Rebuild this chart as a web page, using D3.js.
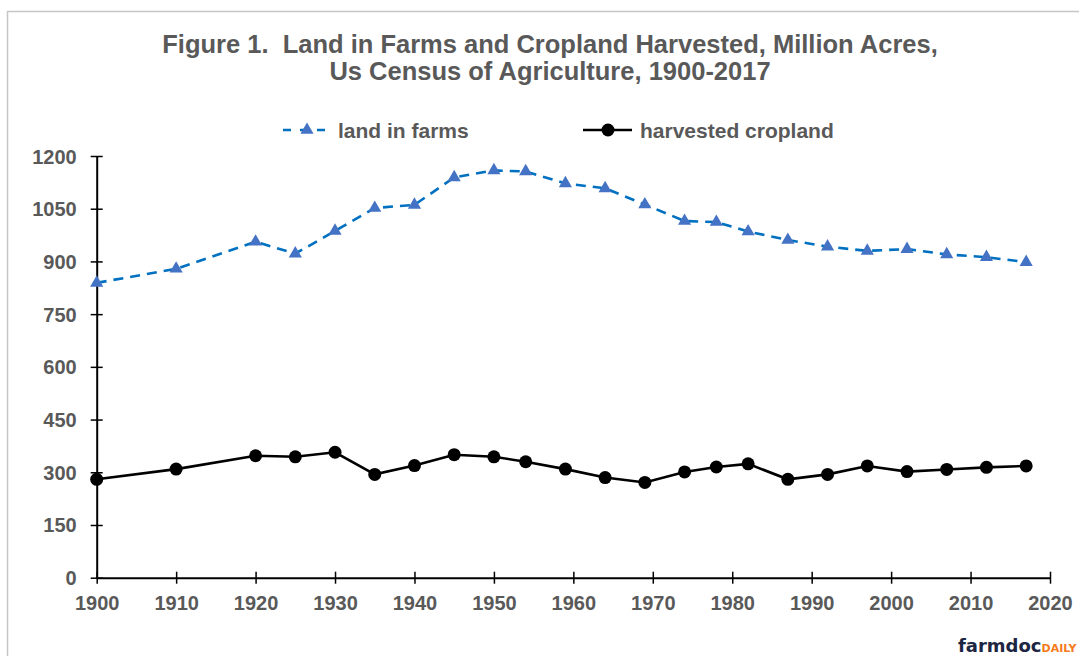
<!DOCTYPE html>
<html><head><meta charset="utf-8">
<script src="https://cdn.jsdelivr.net/npm/d3@7"></script>
<style>html,body{margin:0;padding:0;background:#fff;}svg{display:block;}</style>
</head><body>
<script>
const years = [1900,1910,1920,1925,1930,1935,1940,1945,1950,1954,1959,1964,1969,1974,1978,1982,1987,1992,1997,2002,2007,2012,2017];
const landInFarms = [839,879,956,922,987,1052,1061,1139,1159,1156,1122,1108,1062,1015,1012,985,961,942,930,935,920,912,898];
const harvestedCropland = [280,309,347,344,357,294,319,350,344,330,309,285,271,301,315,324,280,294,318,302,308,314,318];
const yTicks = [0,150,300,450,600,750,900,1050,1200];
const xTicks = [1900,1910,1920,1930,1940,1950,1960,1970,1980,1990,2000,2010,2020];
const titleLines = ["Figure 1.  Land in Farms and Cropland Harvested, Million Acres,","Us Census of Agriculture, 1900-2017"];
const seriesNames = ["land in farms","harvested cropland"];

const W=1079,H=656;
const svg=d3.select("body").append("svg").attr("width",W).attr("height",H);
svg.append("rect").attr("x",7.5).attr("y",11.5).attr("width",W).attr("height",H).attr("fill","#fff").attr("stroke","#c6c6c6").attr("stroke-width",1.5);

const x=d3.scaleLinear().domain([1900,2020]).range([96.7,1050]);
const y=d3.scaleLinear().domain([0,1200]).range([577.7,156]);
const grey="#595959";
const font="'Liberation Sans', Arial, sans-serif";

// title
svg.selectAll("text.title").data(titleLines).join("text").attr("class","title")
  .attr("x",550).attr("y",(d,i)=>53+i*27).attr("text-anchor","middle").style("white-space","pre")
  .attr("font-family",font).attr("font-weight","bold").attr("font-size",25.5).attr("fill",grey).text(d=>d);

// axes
const yAxis=d3.axisLeft(y).tickValues(yTicks).tickFormat(d3.format("d")).tickSizeInner(6).tickSizeOuter(0);
const gy=svg.append("g").attr("transform",`translate(${x(1900)},0)`).call(yAxis);
gy.selectAll(".tick line").attr("x1",-6).attr("x2",6);
const xAxis=d3.axisBottom(x).tickValues(xTicks).tickFormat(d3.format("d")).tickSizeInner(6).tickSizeOuter(0);
const gx=svg.append("g").attr("transform",`translate(0,${y(0)})`).call(xAxis);
gx.selectAll(".tick line").attr("y1",-6).attr("y2",6);
[gx,gy].forEach(g=>{
  g.select(".domain").attr("stroke","#000").attr("stroke-width",2);
  g.selectAll(".tick line").attr("stroke","#000").attr("stroke-width",1.5);
  g.selectAll("text").attr("font-family",font).attr("font-weight","bold").attr("font-size",20).attr("fill",grey);
});
gy.selectAll("text").attr("x",-20).attr("dy","0.35em");
gx.selectAll("text").attr("y",32).attr("dy",0);

const dataA=years.map((yr,i)=>({x:yr,y:landInFarms[i]}));
const dataB=years.map((yr,i)=>({x:yr,y:harvestedCropland[i]}));
const line=d3.line().x(d=>x(d.x)).y(d=>y(d.y));

svg.append("path").datum(dataA).attr("d",line).attr("fill","none").attr("stroke","#0070C0").attr("stroke-width",2.6).attr("stroke-dasharray","10,7");
const tri=d3.symbol().type(d3.symbolTriangle).size(75);
svg.selectAll("path.tri").data(dataA).join("path").attr("class","tri").attr("d",tri)
  .attr("transform",d=>`translate(${x(d.x)},${y(d.y)})`).attr("fill","#4472C4");

svg.append("path").datum(dataB).attr("d",line).attr("fill","none").attr("stroke","#000").attr("stroke-width",2.6);
svg.selectAll("circle.pt").data(dataB).join("circle").attr("class","pt")
  .attr("cx",d=>x(d.x)).attr("cy",d=>y(d.y)).attr("r",6.5).attr("fill","#000");

// legend
const ly=130;
const lg=svg.append("g");
lg.append("line").attr("x1",283).attr("x2",332).attr("y1",ly).attr("y2",ly).attr("stroke","#0070C0").attr("stroke-width",2.6).attr("stroke-dasharray","8,9");
lg.append("path").attr("d",tri).attr("transform",`translate(307,${ly})`).attr("fill","#4472C4");
lg.append("text").attr("x",338).attr("y",ly+7.5).attr("font-family",font).attr("font-weight","bold").attr("font-size",21).attr("fill",grey).text(seriesNames[0]);
lg.append("line").attr("x1",583).attr("x2",632).attr("y1",ly).attr("y2",ly).attr("stroke","#000").attr("stroke-width",2.6);
lg.append("circle").attr("cx",608).attr("cy",ly).attr("r",6.5).attr("fill","#000");
lg.append("text").attr("x",640).attr("y",ly+7.5).attr("font-family",font).attr("font-weight","bold").attr("font-size",21).attr("fill",grey).text(seriesNames[1]);

// logo
const logo=svg.append("text").attr("x",958).attr("y",652).attr("font-family","'DejaVu Sans', sans-serif").attr("font-weight","bold");
logo.append("tspan").attr("font-size",18).attr("fill","#1c2541").text("farmdoc");
logo.append("tspan").attr("font-size",11).attr("fill","#f47b20").text("DAILY");
</script>
</body></html>
